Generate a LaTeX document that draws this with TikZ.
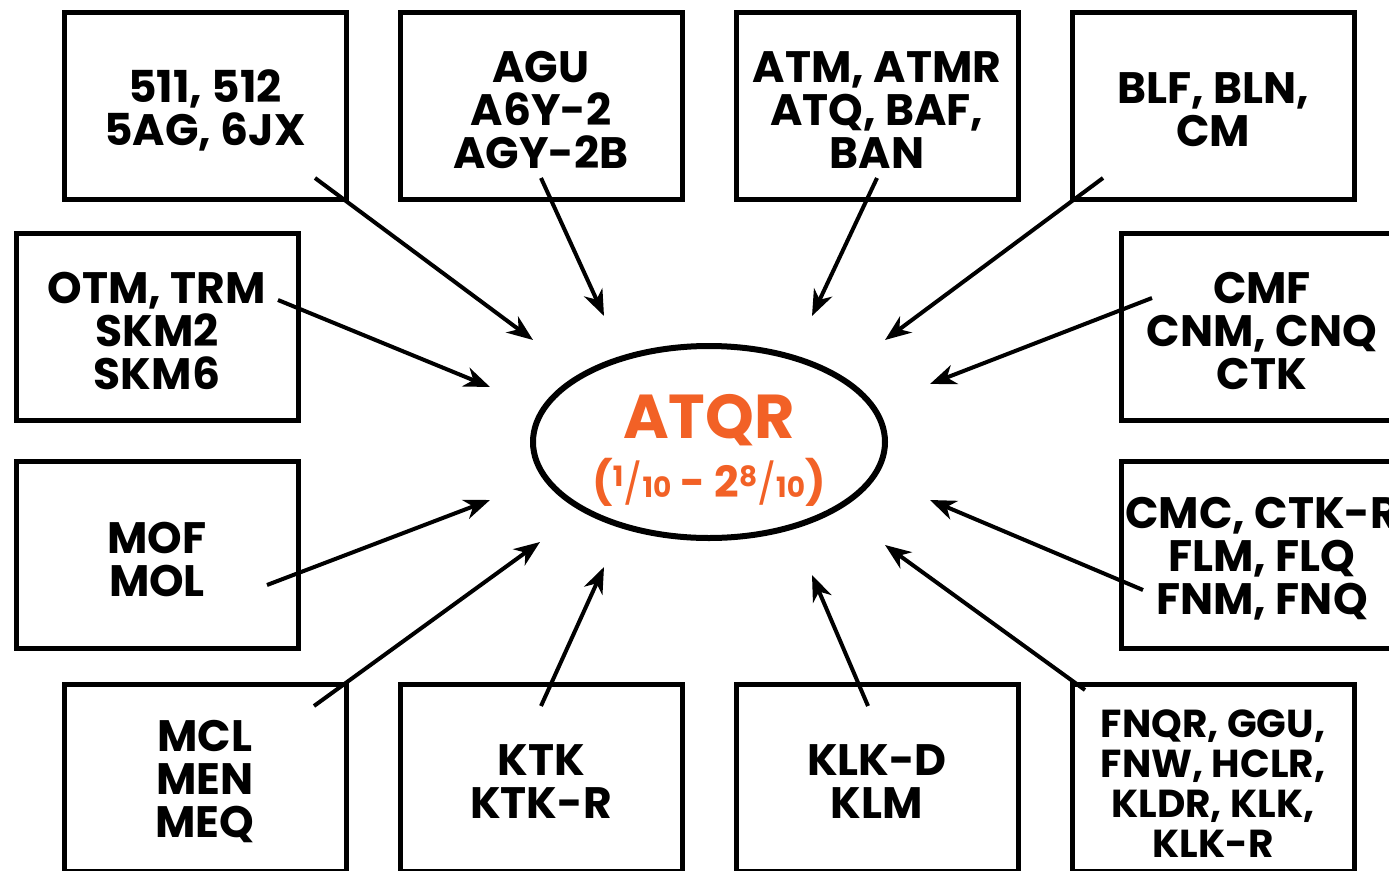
\documentclass[tikz,border=0pt]{standalone}
\usepackage{fontspec}
\setmainfont{Poppins}
\usetikzlibrary{arrows.meta,shapes.geometric}
\definecolor{accent}{RGB}{242,97,38}
\newcommand{\myfr}[2]{\raisebox{11pt}{\fontsize{28}{28}\selectfont #1}\raisebox{-1pt}{\fontsize{40}{40}\selectfont\mdseries/}{\fontsize{28}{28}\selectfont #2}}
\begin{document}
\begin{tikzpicture}[x=1pt,y=-1pt,
  box/.style={draw,line width=5pt,minimum width=282pt,minimum height=187pt,inner sep=0pt},
  lbl/.style={align=center,inner sep=0pt,yshift=-4pt,font=\bfseries\fontsize{44}{43}\selectfont},
  smalllbl/.style={lbl,yshift=-2pt,font=\bfseries\fontsize{39}{40}\selectfont},
  conn/.style={line width=4pt,-{Stealth[length=26pt,width=20pt,inset=8pt]}},
  hub/.style={draw,ellipse,line width=6pt,minimum width=352pt,minimum height=192pt,inner sep=0pt}]
\clip (0,0) rectangle (1389,870);
\fill[white] (0,0) rectangle (1389,870);
% boxes
\node[box] (b1) at (205,106) {};
\node[box] (b2) at (541,106) {};
\node[box] (b3) at (877,106) {};
\node[box] (b4) at (1213,106) {};
\node[box] (b5) at (157,327) {};
\node[box] (b6) at (1262,327) {};
\node[box] (b7) at (157,555) {};
\node[box] (b8) at (1262,555) {};
\node[box] (b9) at (205,778) {};
\node[box] (b10) at (541,778) {};
\node[box] (b11) at (877,778) {};
\node[box] (b12) at (1213,778) {};
% labels
\node[lbl] (l1) at (b1.center) {511, 512\\5AG, 6JX};
\node[lbl] (l2) at (b2.center) {AGU\\A6Y-2\\AGY-2B};
\node[lbl] (l3) at (b3.center) {ATM, ATMR\\ATQ, BAF,\\BAN};
\node[lbl] (l4) at (b4.center) {BLF, BLN,\\CM};
\node[lbl] (l5) at (b5.center) {OTM, TRM\\SKM2\\SKM6};
\node[lbl] (l6) at (b6.center) {CMF\\CNM, CNQ\\CTK};
\node[lbl] (l7) at (b7.center) {MOF\\MOL};
\node[lbl] (l8) at (b8.center) {CMC, CTK-R\\FLM, FLQ\\FNM, FNQ};
\node[lbl] (l9) at (b9.center) {MCL\\MEN\\MEQ};
\node[lbl] (l10) at (b10.center) {KTK\\KTK-R};
\node[lbl] (l11) at (b11.center) {KLK-D\\KLM};
\node[smalllbl] (l12) at (b12.center) {FNQR, GGU,\\FNW, HCLR,\\KLDR, KLK,\\KLK-R};
% hub
\node[hub] (hub) at (709,442) {};
\node[anchor=base,text=accent,font=\bfseries\fontsize{62}{62}\selectfont,inner sep=0pt] (t1) at (709,438) {ATQR};
\node[anchor=base,text=accent,font=\bfseries\fontsize{43}{43}\selectfont,inner sep=0pt] (t2) at (709,497) {(\myfr{1}{10} - 2\myfr{8}{10})};
% connector ends
\coordinate (s1) at (315,178);  \coordinate (e1) at (533,340);
\coordinate (s2) at (541,178);  \coordinate (e2) at (604,316);
\coordinate (s3) at (877,178);  \coordinate (e3) at (812,316);
\coordinate (s4) at (1103,178); \coordinate (e4) at (885,340);
\coordinate (s5) at (278,300);  \coordinate (e5) at (490,387);
\coordinate (s6) at (1152,298); \coordinate (e6) at (930,384);
\coordinate (s7) at (267,585);  \coordinate (e7) at (490,500);
\coordinate (s8) at (1143,590); \coordinate (e8) at (930,500);
\coordinate (s9) at (314,706);  \coordinate (e9) at (540,542);
\coordinate (s10) at (541,706); \coordinate (e10) at (604,567);
\coordinate (s11) at (868,706); \coordinate (e11) at (812,575);
\coordinate (s12) at (1085,690);\coordinate (e12) at (885,545);
\foreach \i in {1,...,12}{\draw[conn] (s\i) -- (e\i);}
\end{tikzpicture}
\end{document}
